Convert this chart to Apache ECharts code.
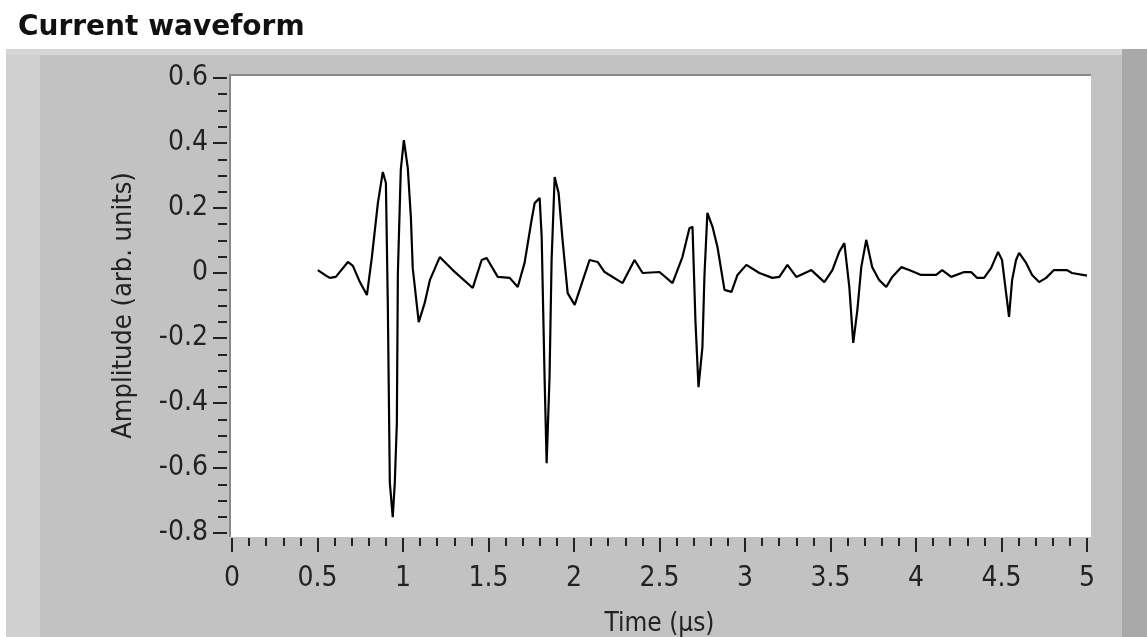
<!DOCTYPE html>
<html>
<head>
<meta charset="utf-8">
<title>Current waveform</title>
<script src="https://cdn.jsdelivr.net/npm/echarts@6/dist/echarts.min.js"></script>
<style>
html, body { margin: 0; padding: 0; background: #fff; }
#main { width: 1147px; height: 637px; }
</style>
</head>
<body>
<div id="main"></div>
<script>
// time (us)
var times = [0.502, 0.543, 0.572, 0.607, 0.678, 0.707, 0.748, 0.789, 0.818, 0.853,
    0.882, 0.900, 0.911, 0.923, 0.940, 0.952, 0.964, 0.970, 0.987, 1.005,
    1.028, 1.046, 1.057, 1.092, 1.127, 1.157, 1.215, 1.291, 1.408, 1.460,
    1.489, 1.554, 1.624, 1.671, 1.711, 1.752, 1.770, 1.799, 1.811, 1.828,
    1.840, 1.857, 1.869, 1.887, 1.910, 1.933, 1.963, 2.004, 2.033, 2.091,
    2.138, 2.179, 2.284, 2.354, 2.401, 2.500, 2.576, 2.634, 2.675, 2.693,
    2.710, 2.728, 2.751, 2.763, 2.780, 2.810, 2.839, 2.880, 2.921, 2.956,
    3.008, 3.084, 3.160, 3.201, 3.248, 3.300, 3.388, 3.464, 3.511, 3.551,
    3.581, 3.610, 3.633, 3.657, 3.680, 3.709, 3.744, 3.785, 3.826, 3.861,
    3.914, 3.960, 4.030, 4.118, 4.153, 4.206, 4.282, 4.322, 4.357, 4.398,
    4.439, 4.480, 4.503, 4.527, 4.544, 4.562, 4.585, 4.603, 4.644, 4.679,
    4.720, 4.761, 4.807, 4.883, 4.912, 5.0];
// amplitude (arb. units)
var amps = [0.009, -0.006, -0.015, -0.012, 0.034, 0.022, -0.028, -0.068, 0.049, 0.215,
    0.311, 0.277, -0.089, -0.646, -0.751, -0.646, -0.462, 0.0, 0.317, 0.409,
    0.323, 0.172, 0.015, -0.151, -0.092, -0.022, 0.049, 0.009, -0.046, 0.040,
    0.046, -0.012, -0.015, -0.043, 0.031, 0.163, 0.215, 0.231, 0.111, -0.323,
    -0.585, -0.320, 0.040, 0.295, 0.246, 0.102, -0.062, -0.098, -0.052, 0.040,
    0.034, 0.003, -0.031, 0.040, 0.0, 0.003, -0.031, 0.049, 0.138, 0.142,
    -0.145, -0.351, -0.228, -0.006, 0.185, 0.142, 0.080, -0.052, -0.058, -0.006,
    0.025, 0.0, -0.015, -0.012, 0.025, -0.012, 0.009, -0.028, 0.009, 0.065,
    0.092, -0.043, -0.215, -0.114, 0.018, 0.102, 0.018, -0.022, -0.043, -0.012,
    0.018, 0.009, -0.006, -0.006, 0.009, -0.012, 0.003, 0.003, -0.015, -0.015,
    0.015, 0.065, 0.040, -0.062, -0.135, -0.022, 0.040, 0.062, 0.031, -0.006,
    -0.028, -0.015, 0.009, 0.009, 0.0, -0.008];

var xTicks = [0, 0.5, 1, 1.5, 2, 2.5, 3, 3.5, 4, 4.5, 5];
var yTicks = [-0.8, -0.6, -0.4, -0.2, 0, 0.2, 0.4, 0.6];

var seriesData = [];
for (var i = 0; i < times.length; i++) {
    seriesData.push([times[i], amps[i]]);
}

var labelFont = '"DejaVu Sans Condensed", "Liberation Sans Narrow", "DejaVu Sans", sans-serif';

var current_wave = {
    backgroundColor: '#ffffff',
    animation: false,
    title: {
        text: 'Current waveform',
        left: 13,
        top: 9,
        textStyle: {
            color: '#111',
            fontWeight: 'bold',
            fontSize: 28,
            fontFamily: '"DejaVu Sans", sans-serif'
        }
    },
    graphic: [
        // grey panel
        { type: 'rect', z: -10, shape: { x: 6, y: 49, width: 1141, height: 588 }, style: { fill: '#c2c2c2' } },
        { type: 'rect', z: -9, shape: { x: 6, y: 49, width: 34, height: 588 }, style: { fill: '#cfcfcf' } },
        { type: 'rect', z: -9, shape: { x: 6, y: 49, width: 1141, height: 6 }, style: { fill: '#d6d6d6' } },
        { type: 'rect', z: -9, shape: { x: 1122, y: 49, width: 25, height: 588 }, style: { fill: '#a9a9a9' } },
        // plot area
        { type: 'rect', z: -8, shape: { x: 229, y: 74, width: 862, height: 463 }, style: { fill: '#888' } },
        { type: 'rect', z: -7, shape: { x: 231, y: 76, width: 860, height: 461 }, style: { fill: '#ffffff' } }
    ],
    grid: {
        left: 232,
        right: 60,
        top: 78,
        bottom: 104,
        containLabel: false,
        outerBoundsMode: 'none'
    },
    xAxis: {
        type: 'value',
        min: 0,
        max: 5,
        interval: 0.5,
        offset: 5,
        name: 'Time (\u00b5s)',
        nameLocation: 'middle',
        nameGap: 73,
        nameTextStyle: { color: '#222', fontSize: 26, fontFamily: labelFont },
        axisLine: { show: false, onZero: false },
        axisTick: { show: true, length: 14, lineStyle: { color: '#222', width: 2 } },
        minorTick: { show: true, splitNumber: 5, length: 8, lineStyle: { color: '#222', width: 2 } },
        splitLine: { show: false },
        axisLabel: {
            color: '#222',
            fontSize: 28,
            fontFamily: labelFont,
            margin: 27,
            formatter: function (v) { return xTicks.indexOf(v) >= 0 ? String(v) : ''; }
        }
    },
    yAxis: {
        type: 'value',
        min: -0.8,
        max: 0.6,
        interval: 0.2,
        offset: 5,
        name: 'Amplitude (arb. units)',
        nameLocation: 'middle',
        nameGap: 90,
        nameTextStyle: { color: '#222', fontSize: 27, fontFamily: labelFont },
        axisLine: { show: false, onZero: false },
        axisTick: { show: true, length: 14, lineStyle: { color: '#222', width: 2 } },
        minorTick: { show: true, splitNumber: 4, length: 9, lineStyle: { color: '#222', width: 2 } },
        splitLine: { show: false },
        axisLabel: {
            color: '#222',
            fontSize: 28,
            fontFamily: labelFont,
            margin: 19,
            formatter: function (v) {
                var r = Math.round(v * 10) / 10;
                return yTicks.indexOf(r) >= 0 ? String(r) : '';
            }
        }
    },
    series: [
        {
            name: 'Current',
            type: 'line',
            data: seriesData,
            showSymbol: false,
            symbol: 'none',
            lineStyle: { color: '#000', width: 2.2 }
        }
    ]
};

var chart_current_wave = null;
chart_current_wave = echarts.init(document.getElementById('main'));
chart_current_wave.setOption(current_wave);
</script>
</body>
</html>
